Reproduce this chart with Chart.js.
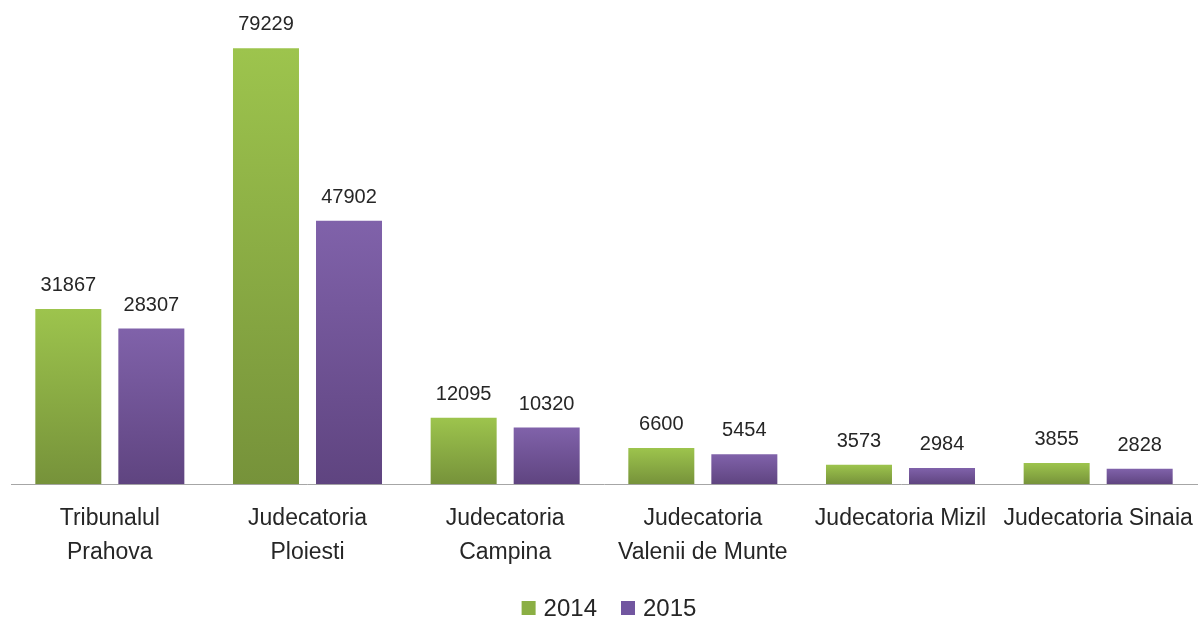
<!DOCTYPE html>
<html>
<head>
<meta charset="utf-8">
<script src="https://cdn.jsdelivr.net/npm/chart.js@4/dist/chart.umd.min.js"></script>
<style>
html,body{margin:0;padding:0;background:#fff;}
#wrap{width:1198px;height:618px;position:relative;}
</style>
</head>
<body>
<div id="wrap"><canvas id="c" width="1198" height="618"></canvas></div>
<script>
const categories = [
  ["Tribunalul", "Prahova"],
  ["Judecatoria", "Ploiesti"],
  ["Judecatoria", "Campina"],
  ["Judecatoria", "Valenii de Munte"],
  "Judecatoria Mizil",
  "Judecatoria Sinaia"
];
const seriesNames = ["2014", "2015"];
const values2014 = [31867, 79229, 12095, 6600, 3573, 3855];
const values2015 = [28307, 47902, 10320, 5454, 2984, 2828];

const FONT = "'Liberation Sans', Arial, sans-serif";
const legendColors = ['#8BAF44', '#7256A0'];

function barGradient(top, bottom) {
  return function (ctx) {
    const chart = ctx.chart;
    const y = chart.scales && chart.scales.y;
    if (!y || ctx.type !== 'data' || !chart.chartArea) return top;
    const v = ctx.raw;
    const py = y.getPixelForValue(v);
    const pb = y.getPixelForValue(0);
    if (!isFinite(py) || !isFinite(pb) || py === pb) return top;
    const g = chart.ctx.createLinearGradient(0, py, 0, pb);
    g.addColorStop(0, top);
    g.addColorStop(1, bottom);
    return g;
  };
}

const valueLabels = {
  id: 'valueLabels',
  afterDatasetsDraw(chart) {
    const ctx = chart.ctx;
    ctx.save();
    ctx.font = "20px " + FONT;
    ctx.fillStyle = "#262626";
    ctx.textAlign = "center";
    ctx.textBaseline = "alphabetic";
    chart.data.datasets.forEach((ds, i) => {
      const meta = chart.getDatasetMeta(i);
      meta.data.forEach((el, j) => {
        ctx.fillText(String(ds.data[j]), el.x, el.y - 18);
      });
    });
    ctx.restore();
  }
};

const bottomLegend = {
  id: 'bottomLegend',
  afterDraw(chart) {
    const ctx = chart.ctx;
    ctx.save();
    ctx.font = "24px " + FONT;
    ctx.textBaseline = "middle";
    ctx.textAlign = "left";
    const box = 14, gap = 8, spacing = 24;
    const items = chart.data.datasets.map((d, i) => ({ text: d.label, color: legendColors[i], w: ctx.measureText(d.label).width }));
    let total = 0;
    items.forEach((it, i) => { total += box + gap + it.w + (i ? spacing : 0); });
    let x = chart.width / 2 + 10 - total / 2;
    const cy = chart.height - 10;
    items.forEach((it) => {
      ctx.fillStyle = it.color;
      ctx.fillRect(x, cy - box / 2, box, box);
      ctx.fillStyle = "#262626";
      ctx.fillText(it.text, x + box + gap, cy + 1);
      x += box + gap + it.w + spacing;
    });
    ctx.restore();
  }
};

new Chart(document.getElementById('c'), {
  type: 'bar',
  data: {
    labels: categories,
    datasets: [
      {
        label: seriesNames[0],
        data: values2014,
        backgroundColor: barGradient('#9DC44D', '#76923A'),
        borderWidth: 0
      },
      {
        label: seriesNames[1],
        data: values2015,
        backgroundColor: barGradient('#8062AA', '#5F4480'),
        borderWidth: 0
      }
    ]
  },
  options: {
    responsive: false,
    animation: false,
    devicePixelRatio: 1,
    layout: { padding: { left: 11, right: 1, top: 0, bottom: 49 } },
    datasets: { bar: { categoryPercentage: 0.84, barPercentage: 0.795 } },
    scales: {
      x: {
        grid: { display: true, drawOnChartArea: false, drawTicks: true, tickLength: 18, tickColor: 'rgba(0,0,0,0)' },
        border: { display: true, color: '#A6A6A6', width: 1 },
        ticks: {
          color: '#262626',
          font: { family: FONT, size: 23, lineHeight: 1.45 },
          padding: 0,
          maxRotation: 0,
          minRotation: 0,
          autoSkip: false
        }
      },
      y: {
        display: false,
        min: 0,
        max: 88000
      }
    },
    plugins: {
      legend: { display: false },
      tooltip: { enabled: false }
    }
  },
  plugins: [valueLabels, bottomLegend]
});
</script>
</body>
</html>
